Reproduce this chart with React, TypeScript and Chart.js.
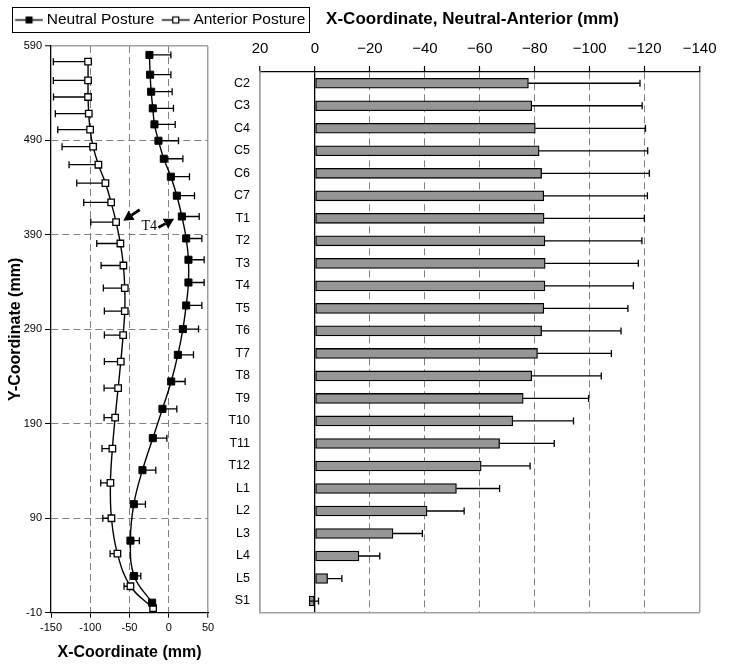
import React, { useEffect, useRef } from 'react';
import { Chart, registerables } from 'chart.js';

Chart.register(...registerables);
Chart.defaults.font.family = "'Liberation Sans', Arial, sans-serif";

// ---------- Left panel data (X/Y coordinates, C2 .. S1) ----------
const neutralX = [-24.6, -23.7, -22.4, -20.3, -18.2, -13.1, -6.3, 2.7, 10.3, 16.7, 22.2, 25.1, 25.1, 22.2, 18.0, 11.6, 3.1, -8.0, -20.3, -33.5, -44.5, -48.8, -44.1, -21.2];
const neutralY = [580.5, 559.6, 541.6, 524.0, 507.0, 489.7, 470.6, 451.6, 431.5, 409.5, 386.2, 363.7, 339.6, 315.3, 290.3, 263.0, 234.8, 205.8, 174.8, 140.9, 104.9, 66.3, 28.9, 0.6];
const neutralErr = [27.3, 26.4, 26.7, 26.3, 26.4, 25.5, 24.3, 23.7, 22.5, 22.1, 20.0, 20.0, 20.0, 20.0, 19.9, 19.9, 17.8, 18.3, 17.9, 17.0, 14.8, 11.4, 8.5, 2.0];

const anteriorX = [-102.8, -102.8, -102.8, -101.9, -100.2, -96.4, -89.6, -80.7, -73.4, -67.1, -61.6, -57.8, -56.0, -56.0, -58.1, -61.1, -64.5, -68.3, -71.8, -74.3, -73.0, -65.4, -48.8, -19.9];
const anteriorY = [573.4, 553.6, 536.0, 518.3, 501.4, 483.4, 464.3, 444.9, 424.4, 403.6, 380.9, 357.6, 333.7, 309.3, 283.9, 255.9, 227.8, 196.6, 163.8, 127.4, 90.0, 52.5, 18.0, -5.3];
const anteriorErr = [44.2, 44.2, 44.0, 42.6, 41.2, 39.5, 37.4, 36.5, 34.9, 32.2, 30.1, 28.4, 27.3, 26.0, 23.9, 20.9, 17.9, 14.1, 13.2, 12.3, 11.0, 9.3, 8.1, 2.0];

const leftXTicks = [-150, -100, -50, 0, 50];
const leftYTicks = [-10, 90, 190, 290, 390, 490, 590];

// T4 annotation (data coordinates)
const t4Label = { text: 'T4', x: -24.9, y: 399.5 };
const t4Arrows = [
  { fromX: -13.2, fromY: 397.8, toX: 6.9, toY: 407.1 },
  { fromX: -37.0, fromY: 416.6, toX: -57.9, toY: 405.0 },
];

// ---------- Right panel data ----------
const segments = ['C2', 'C3', 'C4', 'C5', 'C6', 'C7', 'T1', 'T2', 'T3', 'T4', 'T5', 'T6', 'T7', 'T8', 'T9', 'T10', 'T11', 'T12', 'L1', 'L2', 'L3', 'L4', 'L5', 'S1'];
const diffValues = [-77.7, -78.9, -80.2, -81.6, -82.5, -83.3, -83.4, -83.7, -83.8, -83.7, -83.3, -82.5, -81.0, -78.9, -75.8, -72.0, -67.2, -60.5, -51.5, -40.8, -28.4, -16.0, -4.6, 2.1];
const diffErr = [40.6, 40.2, 40.1, 39.5, 39.2, 37.7, 36.5, 35.3, 33.9, 32.2, 30.6, 28.9, 26.9, 25.3, 23.8, 22.1, 19.9, 17.8, 15.7, 13.5, 10.7, 7.6, 5.2, 3.4];

const GRID = '#808080';
const FRAME = '#a0a0a0';

function makeLegendIcon(filled: boolean) {
  const c = document.createElement('canvas');
  c.width = 34;
  c.height = 11;
  const g = c.getContext('2d')!;
  g.strokeStyle = '#000';
  g.lineWidth = 1.4;
  g.beginPath();
  g.moveTo(5.7, 5.5);
  g.lineTo(33.7, 5.5);
  g.stroke();
  const cx = 19.7;
  if (filled) {
    g.fillStyle = '#000';
    g.fillRect(cx - 3.5, 2, 7, 7);
  } else {
    g.fillStyle = '#fff';
    g.fillRect(cx - 3, 2.5, 6, 6);
    g.lineWidth = 1.2;
    g.strokeRect(cx - 3, 2.5, 6, 6);
  }
  return c;
}

function drawArrow(ctx: CanvasRenderingContext2D, x1: number, y1: number, x2: number, y2: number) {
  const ang = Math.atan2(y2 - y1, x2 - x1);
  const hl = 10;
  const hw = 5.5;
  const bx = x2 - hl * Math.cos(ang);
  const by = y2 - hl * Math.sin(ang);
  ctx.lineWidth = 2.8;
  ctx.beginPath();
  ctx.moveTo(x1, y1);
  ctx.lineTo(bx, by);
  ctx.stroke();
  ctx.beginPath();
  ctx.moveTo(x2, y2);
  ctx.lineTo(bx + hw * Math.sin(ang), by - hw * Math.cos(ang));
  ctx.lineTo(bx - hw * Math.sin(ang), by + hw * Math.cos(ang));
  ctx.closePath();
  ctx.fill();
}

const LEFT_W = 320;
const RIGHT_L = 220;
const RIGHT_W = 505;
const H = 671;
const LEFT_PAD_L = 7.7;
const LEFT_PAD_T = 6.25;

export default function App() {
  const leftRef = useRef<HTMLCanvasElement>(null);
  const rightRef = useRef<HTMLCanvasElement>(null);

  useEffect(() => {
    const neutralIcon = makeLegendIcon(true);
    const anteriorIcon = makeLegendIcon(false);

    const leftDecor = {
      id: 'leftDecor',
      beforeDatasetsDraw(chart: any) {
        const { ctx } = chart;
        const x = chart.scales.x;
        const y = chart.scales.y;
        ctx.save();
        ctx.strokeStyle = '#000';
        ctx.lineWidth = 1.3;
        const bar = (xv: number, yv: number, end: number) => {
          const px = x.getPixelForValue(xv);
          const py = y.getPixelForValue(yv);
          const pe = x.getPixelForValue(end);
          ctx.beginPath();
          ctx.moveTo(px, py);
          ctx.lineTo(pe, py);
          ctx.moveTo(pe, py - 3.5);
          ctx.lineTo(pe, py + 3.5);
          ctx.stroke();
        };
        neutralX.forEach((v, i) => bar(v, neutralY[i], v + neutralErr[i]));
        anteriorX.forEach((v, i) => bar(v, anteriorY[i], v - anteriorErr[i]));
        ctx.restore();
      },
      afterDatasetsDraw(chart: any) {
        const { ctx } = chart;
        const x = chart.scales.x;
        const y = chart.scales.y;
        ctx.save();
        ctx.strokeStyle = '#000';
        ctx.fillStyle = '#000';
        t4Arrows.forEach((a) =>
          drawArrow(ctx, x.getPixelForValue(a.fromX), y.getPixelForValue(a.fromY), x.getPixelForValue(a.toX), y.getPixelForValue(a.toY))
        );
        ctx.font = "14px 'Liberation Serif', 'Times New Roman', serif";
        ctx.textAlign = 'center';
        ctx.textBaseline = 'middle';
        ctx.fillText(t4Label.text, x.getPixelForValue(t4Label.x), y.getPixelForValue(t4Label.y));
        ctx.restore();
      },
      afterDraw(chart: any) {
        const hb = chart.legend && chart.legend.legendHitBoxes;
        if (!hb || !hb.length) return;
        const first = hb[0];
        const last = hb[hb.length - 1];
        const l = Math.round(first.left - 2) + 0.5;
        const r = Math.round(last.left + last.width + 4) + 0.5;
        const t = Math.round(first.top - 5) + 0.5;
        const b = Math.round(first.top + first.height + 4) + 0.5;
        const { ctx } = chart;
        ctx.save();
        ctx.strokeStyle = '#000';
        ctx.lineWidth = 1;
        ctx.strokeRect(l, t, r - l, b - t);
        ctx.restore();
      },
    };

    const left = new Chart(leftRef.current!, {
      type: 'scatter',
      data: {
        datasets: [
          {
            label: 'Neutral Posture',
            data: neutralX.map((v, i) => ({ x: v, y: neutralY[i] })),
            showLine: true,
            tension: 0.4,
            borderColor: '#000',
            borderWidth: 1.4,
            pointStyle: 'rect',
            pointRadius: 5,
            pointBackgroundColor: '#000',
            pointBorderColor: '#000',
            pointBorderWidth: 1,
          },
          {
            label: 'Anterior Posture',
            data: anteriorX.map((v, i) => ({ x: v, y: anteriorY[i] })),
            showLine: true,
            tension: 0.4,
            borderColor: '#000',
            borderWidth: 1.4,
            pointStyle: 'rect',
            pointRadius: 4.6,
            pointBackgroundColor: '#fff',
            pointBorderColor: '#000',
            pointBorderWidth: 1.3,
          },
        ],
      },
      options: {
        responsive: false,
        animation: false,
        events: [],
        layout: { padding: { left: LEFT_PAD_L, top: LEFT_PAD_T, right: 0, bottom: 0 } },
        plugins: {
          tooltip: { enabled: false },
          title: { display: false },
          legend: {
            display: true,
            position: 'top',
            align: 'start',
            labels: {
              font: { size: 15.5 },
              color: '#000',
              usePointStyle: true,
              pointStyleWidth: 25.25,
              padding: 6,
              generateLabels: (chart: any) =>
                chart.data.datasets.map((ds: any, i: number) => ({
                  text: ds.label,
                  pointStyle: i === 0 ? neutralIcon : anteriorIcon,
                  fillStyle: '#000',
                  strokeStyle: '#000',
                  lineWidth: 0,
                  hidden: false,
                  datasetIndex: i,
                  fontColor: '#000',
                })),
            },
          },
        },
        scales: {
          x: {
            type: 'linear',
            position: 'bottom',
            min: -150,
            max: 50,
            afterBuildTicks: (s: any) => {
              s.ticks = leftXTicks.map((v) => ({ value: v }));
            },
            ticks: { font: { size: 11 }, color: '#000', padding: 4 },
            grid: {
              color: (c: any) => {
                const v = c.tick ? c.tick.value : null;
                if (v === 50) return FRAME;
                if (v === -150) return 'rgba(0,0,0,0)';
                return GRID;
              },
              lineWidth: (c: any) => (c.tick && c.tick.value === 50 ? 1.5 : 1),
              drawTicks: true,
              tickLength: 5,
              tickColor: '#000',
              tickWidth: 1,
            },
            border: {
              display: true,
              color: '#000',
              width: 1.3,
              dash: (c: any) => (c.tick && c.tick.value === 50 ? [] : [7, 4]),
            },
            title: {
              display: true,
              text: 'X-Coordinate (mm)',
              color: '#000',
              font: { size: 16, weight: 'bold' },
              padding: { top: 0, bottom: 8.4 },
            },
            afterFit: (s: any) => {
              s.height = 58.3;
            },
          },
          y: {
            type: 'linear',
            position: 'left',
            min: -10,
            max: 590,
            afterBuildTicks: (s: any) => {
              s.ticks = leftYTicks.map((v) => ({ value: v }));
            },
            ticks: { font: { size: 11 }, color: '#000', padding: 3 },
            grid: {
              color: (c: any) => {
                const v = c.tick ? c.tick.value : null;
                if (v === 590) return FRAME;
                if (v === -10) return 'rgba(0,0,0,0)';
                return GRID;
              },
              lineWidth: (c: any) => (c.tick && c.tick.value === 590 ? 1.5 : 1),
              drawTicks: true,
              tickLength: 6,
              tickColor: '#000',
              tickWidth: 1,
            },
            border: {
              display: true,
              color: '#000',
              width: 1.3,
              dash: (c: any) => (c.tick && c.tick.value === 590 ? [] : [7, 4]),
            },
            title: {
              display: true,
              text: 'Y-Coordinate (mm)',
              color: '#000',
              font: { size: 16, weight: 'bold' },
              padding: { top: -2, bottom: 0 },
            },
            afterFit: (s: any) => {
              s.width = 51 - LEFT_PAD_L;
            },
          },
          yR: {
            type: 'linear',
            position: 'right',
            display: true,
            grid: { display: false, drawTicks: false },
            ticks: { display: false },
            border: { display: false },
            afterFit: (s: any) => {
              s.width = LEFT_W - 208;
            },
          },
          xTop: {
            type: 'linear',
            position: 'top',
            display: true,
            grid: { display: false, drawTicks: false },
            ticks: { display: false },
            border: { display: false },
            afterFit: (s: any) => {
              const lh = s.chart.legend ? s.chart.legend.height : 31.5;
              s.height = Math.max(0, 46 - LEFT_PAD_T - lh);
            },
          },
        },
      } as any,
      plugins: [leftDecor as any],
    });

    const rightDecor = {
      id: 'rightDecor',
      afterDatasetsDraw(chart: any) {
        const { ctx } = chart;
        const x = chart.scales.x;
        const y = chart.scales.y;
        ctx.save();
        ctx.strokeStyle = '#000';
        ctx.lineWidth = 1.3;
        diffValues.forEach((v, i) => {
          const py = y.getPixelForValue(i);
          const p0 = x.getPixelForValue(v);
          const p1 = x.getPixelForValue(v - diffErr[i]);
          ctx.beginPath();
          ctx.moveTo(p0, py);
          ctx.lineTo(p1, py);
          ctx.moveTo(p1, py - 3.5);
          ctx.lineTo(p1, py + 3.5);
          ctx.stroke();
        });
        ctx.restore();
      },
    };

    const edge = (v: any) => v === 20 || v === -140;

    const right = new Chart(rightRef.current!, {
      type: 'bar',
      data: {
        labels: segments,
        datasets: [
          {
            label: 'Neutral-Anterior',
            data: diffValues,
            backgroundColor: '#969696',
            borderColor: '#000',
            borderWidth: 1.3,
            borderSkipped: false,
            barThickness: 10,
          },
        ],
      },
      options: {
        responsive: false,
        animation: false,
        events: [],
        indexAxis: 'y',
        layout: { padding: { left: 0, right: 0, top: 0, bottom: 0 } },
        plugins: {
          legend: { display: false },
          tooltip: { enabled: false },
          title: {
            display: true,
            text: 'X-Coordinate, Neutral-Anterior (mm)',
            color: '#000',
            font: { size: 17, weight: 'bold' },
            padding: { top: 9, bottom: 4 },
          },
        },
        scales: {
          x: {
            type: 'linear',
            position: 'top',
            reverse: true,
            min: -140,
            max: 20,
            ticks: {
              stepSize: 20,
              font: { size: 15 },
              color: '#000',
              padding: 8.5,
              callback: (v: any) => String(v).replace('-', '\u2212'),
            },
            grid: {
              color: (c: any) => {
                const v = c.tick ? c.tick.value : null;
                if (v === 0) return '#000';
                if (edge(v)) return FRAME;
                return GRID;
              },
              lineWidth: (c: any) => {
                const v = c.tick ? c.tick.value : null;
                if (v === 0) return 1.3;
                if (edge(v)) return 1.5;
                return 1;
              },
              drawTicks: true,
              tickLength: 6,
              tickColor: '#000',
              tickWidth: 1.2,
            },
            border: {
              display: true,
              color: '#000',
              width: 1.3,
              dash: (c: any) => {
                const v = c.tick ? c.tick.value : null;
                return v === 0 || edge(v) ? [] : [7, 4];
              },
            },
            afterFit: (s: any) => {
              s.height = 72 - 33.4;
            },
          },
          y: {
            type: 'category',
            position: 'left',
            grid: { display: false, drawTicks: false },
            ticks: { font: { size: 12.5 }, color: '#000', padding: 10 },
            border: { display: true, color: FRAME, width: 1.5 },
            afterFit: (s: any) => {
              s.width = 260 - RIGHT_L;
            },
          },
          yPad: {
            type: 'linear',
            position: 'right',
            display: true,
            grid: { display: false, drawTicks: false },
            ticks: { display: false },
            border: { display: false },
            afterFit: (s: any) => {
              s.width = RIGHT_L + RIGHT_W - 713;
            },
          },
          xb: {
            type: 'linear',
            position: 'bottom',
            display: true,
            grid: { display: false, drawTicks: false },
            ticks: { display: false },
            border: { display: true, color: FRAME, width: 1.5 },
            afterFit: (s: any) => {
              s.height = H - 612.3;
            },
          },
        },
      } as any,
      plugins: [rightDecor as any],
    });

    return () => {
      left.destroy();
      right.destroy();
    };
  }, []);

  return (
    <div style={{ position: 'fixed', left: 0, top: 0, width: 738, height: H, background: '#fff' }}>
      <canvas ref={leftRef} width={LEFT_W} height={H} style={{ position: 'absolute', left: 0, top: 0 }} />
      <canvas ref={rightRef} width={RIGHT_W} height={H} style={{ position: 'absolute', left: RIGHT_L, top: 0 }} />
    </div>
  );
}
